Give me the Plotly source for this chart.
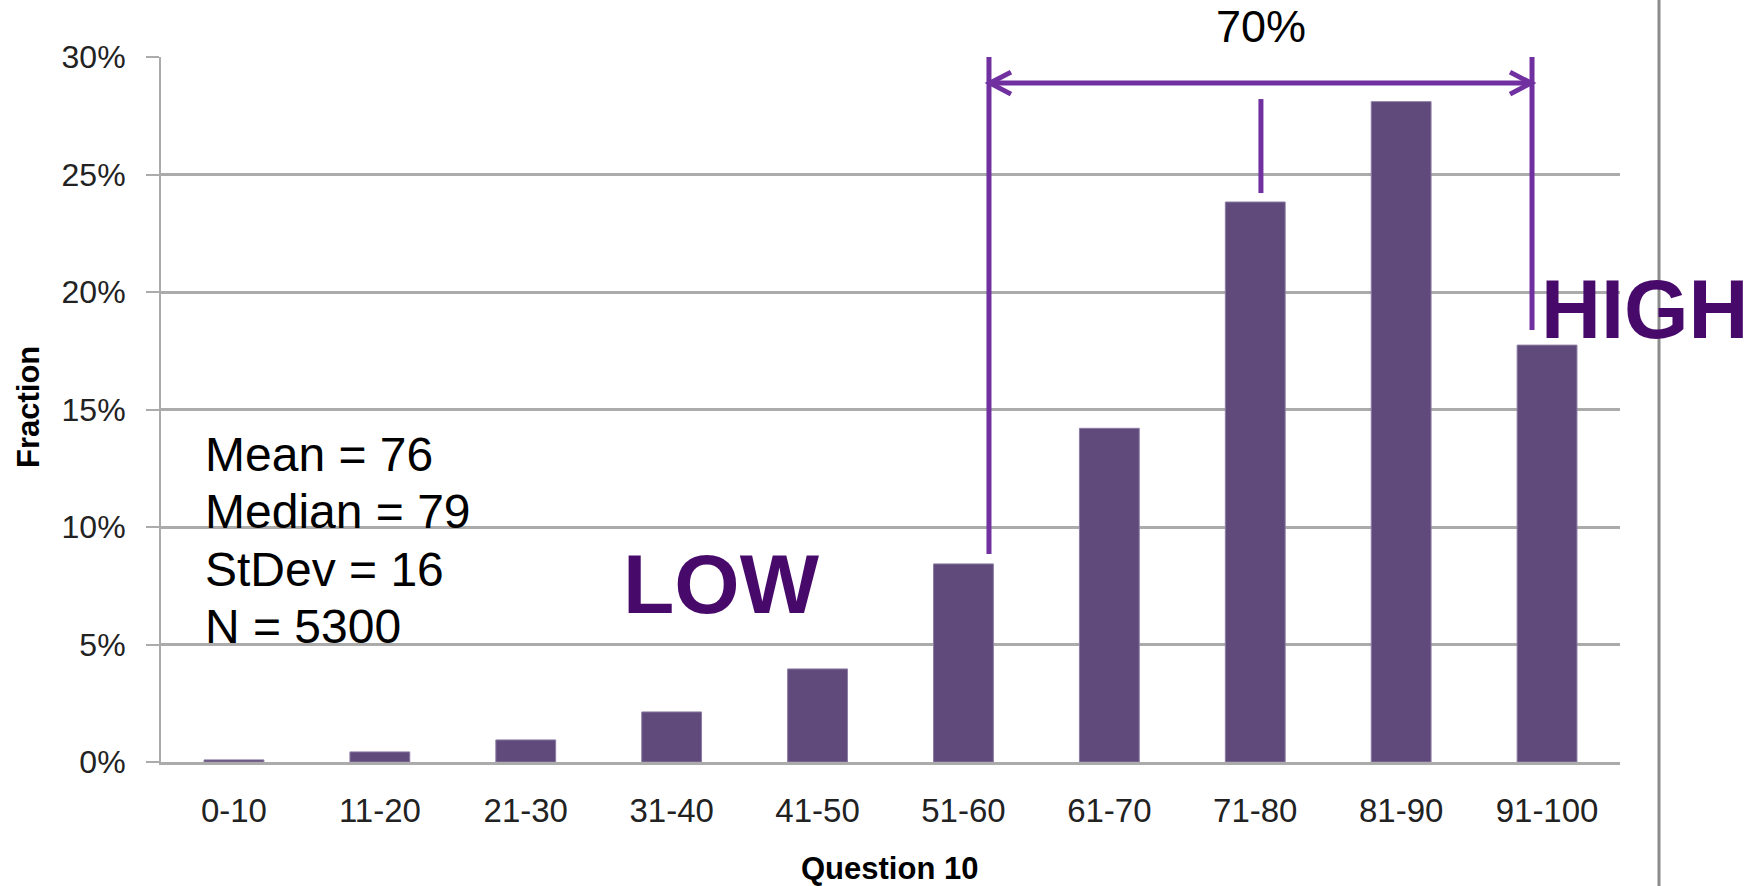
import plotly.graph_objects as go

categories = ["0-10", "11-20", "21-30", "31-40", "41-50", "51-60", "61-70", "71-80", "81-90", "91-100"]
fractions = [0.0009, 0.0043, 0.0094, 0.0213, 0.0396, 0.0843, 0.1420, 0.2383, 0.2810, 0.1774]
y_ticks = [0, 0.05, 0.10, 0.15, 0.20, 0.25, 0.30]
y_tick_labels = ["0%", "5%", "10%", "15%", "20%", "25%", "30%"]
stats_lines = ["Mean = 76", "Median = 79", "StDev = 16", "N = 5300"]

W, H = 1758, 886
L, R, T, B = 161, 138, 57, 124

BAR = "#5f4a7b"
PURPLE = "#7030a0"
DARK = "#480a6a"
GRID = "#ababab"
FONT = "Liberation Sans, Arial, sans-serif"

fig = go.Figure(go.Bar(
    x=categories, y=fractions,
    marker=dict(color=BAR, line=dict(color="#8c7ca3", width=1)),
    showlegend=False,
))

# bracket positions (category-index units / fraction units)
left_x, right_x, mid_x = 5.175, 8.897, 7.039
top_y, arrow_y = 0.30, 0.2889
left_bottom, right_bottom = 0.0885, 0.1838
mid_top, mid_bottom = 0.2821, 0.2421

shapes = [
    dict(type="line", xref="x", yref="y", x0=left_x, x1=left_x, y0=top_y, y1=left_bottom,
         line=dict(color=PURPLE, width=5)),
    dict(type="line", xref="x", yref="y", x0=right_x, x1=right_x, y0=top_y, y1=right_bottom,
         line=dict(color=PURPLE, width=5)),
    dict(type="line", xref="x", yref="y", x0=mid_x, x1=mid_x, y0=mid_top, y1=mid_bottom,
         line=dict(color=PURPLE, width=5)),
    dict(type="line", xref="x", yref="y", x0=left_x, x1=right_x, y0=arrow_y, y1=arrow_y,
         line=dict(color=PURPLE, width=5)),
    dict(type="path", xref="x", yref="y", xsizemode="pixel", ysizemode="pixel",
         xanchor=left_x, yanchor=arrow_y, path="M 22,11 L 1,0 L 22,-11",
         line=dict(color=PURPLE, width=5)),
    dict(type="path", xref="x", yref="y", xsizemode="pixel", ysizemode="pixel",
         xanchor=right_x, yanchor=arrow_y, path="M -22,11 L -1,0 L -22,-11",
         line=dict(color=PURPLE, width=5)),
    # vertical divider at right of the slide
    dict(type="line", xref="paper", yref="paper",
         x0=(1659 - L) / (W - L - R), x1=(1659 - L) / (W - L - R), y0=-0.3, y1=1.2,
         line=dict(color="#8c8c8c", width=3)),
]

pw = W - L - R
ph = H - T - B


def px_x(px):
    return (px - L) / pw


def px_y(py):
    return (H - B - py) / ph


annotations = [
    dict(text="70%", xref="paper", yref="paper", x=px_x(1261), y=px_y(27), showarrow=False,
         xanchor="center", yanchor="middle", font=dict(family=FONT, size=45, color="black")),
    dict(text="<b>LOW</b>", xref="paper", yref="paper", x=px_x(721), y=px_y(584), showarrow=False,
         xanchor="center", yanchor="middle", font=dict(family=FONT, size=84, color=DARK)),
    dict(text="<b>HIGH</b>", xref="paper", yref="paper", x=px_x(1539), y=px_y(309), showarrow=False,
         xanchor="left", yanchor="middle", font=dict(family=FONT, size=83, color=DARK)),
    dict(text="<b>Question 10</b>", xref="paper", yref="paper", x=px_x(889), y=px_y(869),
         showarrow=False, xanchor="center", yanchor="middle",
         font=dict(family=FONT, size=31, color="black")),
    dict(text="<b>Fraction</b>", xref="paper", yref="paper", x=px_x(28), y=px_y(407),
         showarrow=False, xanchor="center", yanchor="middle", textangle=-90,
         font=dict(family=FONT, size=31, color="black")),
]
for i, (line, cy) in enumerate(zip(stats_lines, [454, 511, 569, 626])):
    annotations.append(dict(text=line, xref="paper", yref="paper", x=px_x(203), y=px_y(cy),
                            showarrow=False, xanchor="left", yanchor="middle",
                            font=dict(family=FONT, size=48, color="black")))

fig.update_layout(
    width=W, height=H,
    margin=dict(l=L, r=R, t=T, b=B, pad=0),
    paper_bgcolor="white", plot_bgcolor="white",
    bargap=0.59,
    shapes=shapes,
    annotations=annotations,
    xaxis=dict(
        type="category", range=[-0.5, 9.5],
        showline=True, linecolor=GRID, linewidth=2.5,
        showgrid=False, ticks="", ticklabelstandoff=18,
        tickfont=dict(family=FONT, size=33, color="#222222"),
    ),
    yaxis=dict(
        range=[0, 0.30], tickvals=y_ticks, ticktext=y_tick_labels,
        showline=True, linecolor=GRID, linewidth=2,
        showgrid=True, gridcolor=GRID, gridwidth=2.5, zeroline=False,
        ticks="outside", ticklen=13, tickcolor=GRID, tickwidth=2, ticklabelstandoff=14,
        tickfont=dict(family=FONT, size=32, color="#222222"),
    ),
)

fig.write_html("out.html")
